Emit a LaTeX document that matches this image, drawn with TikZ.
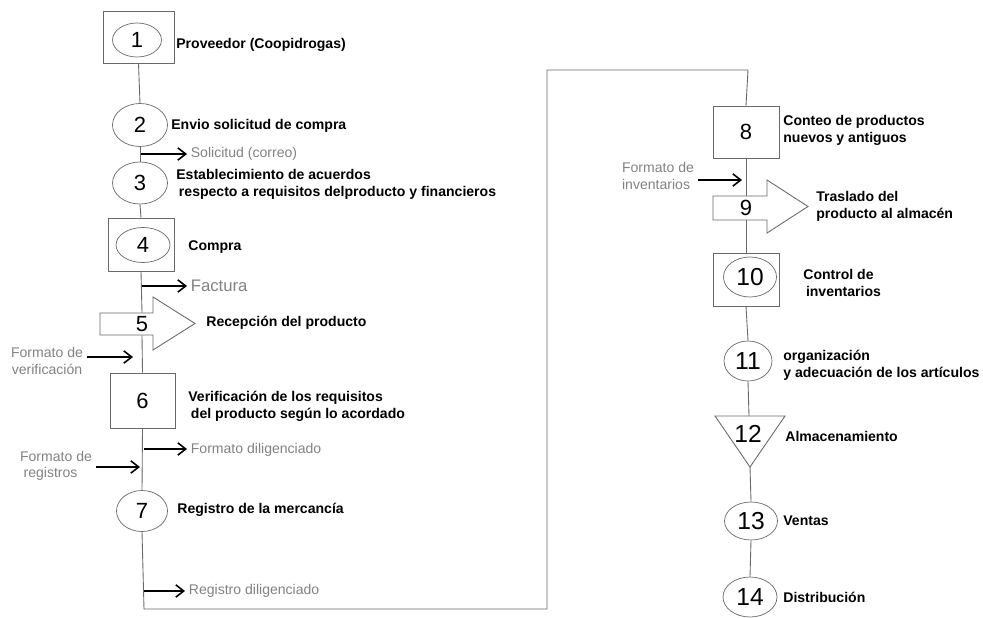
\documentclass[tikz,border=0pt]{standalone}
\usepackage{fontspec}
\setmainfont{Liberation Sans}
\usepackage{tikz}
\usetikzlibrary{arrows.meta, positioning, shapes.geometric, calc}
\usepackage{xcolor}
\definecolor{LabelGray}{RGB}{130,130,130}
\definecolor{LineGray}{RGB}{105,105,105}
\tikzset{
  sqbox/.style={rectangle, draw=LineGray, fill=white,
                minimum width=1.32cm, minimum height=1.04cm, inner sep=0pt,
                font=\fontsize{12.5}{14}\selectfont},
  opnode/.style={ellipse, draw=LineGray, fill=white,
                 minimum width=1.06cm, minimum height=0.8cm, inner sep=0pt,
                 font=\fontsize{12.5}{14}\selectfont},
  bignum/.style={font=\fontsize{14}{16}\selectfont},
  num/.style={inner sep=0pt, minimum width=0.4cm, font=\fontsize{12.5}{14}\selectfont},
  shapeline/.style={draw=LineGray, fill=white, line width=0.5pt},
  desc/.style={anchor=west, inner sep=0pt, align=left,
               font=\fontsize{8}{9.6}\selectfont\bfseries},
  doc/.style={anchor=west, inner sep=2pt, align=left, text=LabelGray,
              font=\fontsize{8}{9.2}\selectfont},
  arr/.style={-{Straight Barb[length=4.5pt, width=7pt]}, line width=0.9pt, color=black},
  flow/.style={draw=LineGray, line width=0.5pt},
}
\begin{document}
\begin{tikzpicture}[x=0.02cm, y=-0.02cm]
      \useasboundingbox (0,0) rectangle (983,618);

      \node[sqbox, minimum width=1.42cm] (b1) at (138.5,37) {};
      \node[opnode, minimum width=0.98cm, minimum height=0.68cm] (n1) at (137,40) {1};
      \node[desc] (t1) at (176,45) {Proveedor (Coopidrogas)};

      \node[opnode, minimum width=1.1cm, minimum height=0.86cm] (n2) at (140,125) {2};
      \node[desc] (t2) at (171,126) {Envio solicitud de compra};

      \node[opnode, minimum width=1.1cm, minimum height=0.84cm] (n3) at (140,183) {3};
      \node[desc] (t3) at (176,184)
            {Establecimiento de acuerdos\\\hspace*{1.5pt}respecto a requisitos delproducto y financieros};

      \node[sqbox, minimum height=1.06cm] (b4) at (141,244.5) {};
      \node[opnode, minimum width=1.08cm, minimum height=0.7cm] (n4) at (143,245) {4};
      \node[desc] (t4) at (188,247) {Compra};

      \draw[shapeline] (100,313) -- (153,313) -- (153,297) -- (195,323.5)
            -- (153,350) -- (153,335) -- (100,335) -- cycle;
      \node[num, minimum height=0.44cm] (n5) at (142,324) {5};
      \node[desc] (t5) at (206,323) {Recepción del producto};

      \node[sqbox, minimum width=1.3cm, minimum height=1.1cm] (n6) at (142.5,400.5) {6};
      \node[desc] (t6) at (188,406)
            {Verificación de los requisitos\\\hspace*{1.5pt}del producto según lo acordado};

      \node[opnode, minimum width=1.02cm, minimum height=0.82cm] (n7) at (142,511) {7};
      \node[desc] (t7) at (177,510) {Registro de la mercancía};

      \coordinate (c1) at (144,609);
      \coordinate (c2) at (547,609);
      \coordinate (c3) at (547,70);
      \coordinate (c4) at (748,70);

      \node[sqbox] (n8) at (746,132) {8};
      \node[desc] (t8) at (783,130) {Conteo de productos\\nuevos y antiguos};

      \draw[shapeline] (713,196) -- (767,196) -- (767,180) -- (808,206.5)
            -- (767,233) -- (767,220) -- (713,220) -- cycle;
      \node[num, minimum height=0.48cm] (n9) at (746,208) {9};
      \node[desc] (t9) at (816,206) {Traslado del\\producto al almacén};

      \node[sqbox, minimum height=1.06cm] (b10) at (746,279.5) {};
      \node[opnode, bignum] (n10) at (750,277) {10};
      \node[desc] (t10) at (803,283) {Control de\\\hspace*{1.5pt}inventarios};

      \node[opnode, bignum, minimum width=0.96cm] (n11) at (748,361) {11};
      \node[desc] (t11) at (783,365) {organización\\y adecuación de los artículos};

      \coordinate (tri1) at (715,416);
      \coordinate (tri2) at (785,416);
      \coordinate (tritip) at (750,467);
      \coordinate (tritop) at (749,416);
      \draw[shapeline] (tri1) -- (tri2) -- (tritip) -- cycle;
      \node[num, bignum] (n12) at (748,434) {12};
      \node[desc] (t12) at (785,436) {Almacenamiento};

      \node[opnode, bignum, minimum height=0.76cm] (n13) at (751,521) {13};
      \node[desc] (t13) at (783,521) {Ventas};

      \node[opnode, bignum, minimum width=1.08cm] (n14) at (750,597) {14};
      \node[desc] (t14) at (783,597) {Distribución};

      \draw[flow] (b1.south) -- (n2.north);
      \draw[flow] (n2.south) -- (n3.north);
      \draw[flow] (n3.south) -- (b4.north);
      \draw[flow] (b4.south) -- (n5.north);
      \draw[flow] (n5.south) -- (n6.north);
      \draw[flow] (n6.south) -- (n7.north);
      \draw[flow] (n7.south) -- (c1) -- (c2) -- (c3) -- (c4) -- (n8.north);
      \draw[flow] (n8.south) -- (n9.north);
      \draw[flow] (n9.south) -- (b10.north);
      \draw[flow] (b10.south) -- (n11.north);
      \draw[flow] (n11.south) -- (tritop);
      \draw[flow] (tritip) -- (n13.north);
      \draw[flow] (n13.south) -- (n14.north);

      \coordinate (s1) at (141,154);
      \node[doc] (d1) at (187,154) {Solicitud (correo)};
      \draw[arr] (s1) -- (d1.west);

      \coordinate (s2) at (142,286);
      \node[doc, font=\fontsize{9.5}{11}\selectfont] (d2) at (187,286) {Factura};
      \draw[arr] (s2) -- (d2.west);

      \coordinate (s3) at (144,449);
      \node[doc] (d3) at (187,450) {Formato diligenciado};
      \draw[arr] (s3) -- (d3.west |- s3);

      \coordinate (s4) at (144,591);
      \node[doc] (d4) at (185,591) {Registro diligenciado};
      \draw[arr] (s4) -- (d4.west);

      \node[doc, anchor=center, align=center] (i1) at (47,361) {Formato de\\verificación};
      \coordinate (e1) at (133,357);
      \draw[arr] (i1.east |- e1) -- (e1);

      \node[doc, anchor=center] (i2) at (56,466) {Formato de\\\hspace*{2pt}registros};
      \coordinate (e2) at (140,467);
      \draw[arr] (i2.east |- e2) -- (e2);

      \node[doc, anchor=center] (i3) at (658,176) {Formato de\\inventarios};
      \coordinate (e3) at (742,180);
      \draw[arr] (i3.east |- e3) -- (e3);
\end{tikzpicture}
\end{document}
